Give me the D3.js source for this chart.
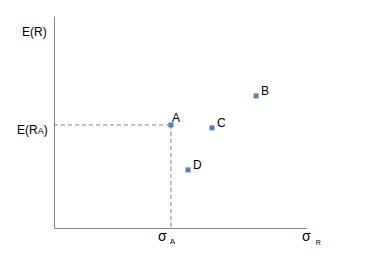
<!DOCTYPE html>
<html><head><meta charset="utf-8">
<script src="https://cdn.jsdelivr.net/npm/d3@7"></script>
<style>body{margin:0;background:#fff}svg{display:block}text{font-family:"Liberation Sans","Open Sans",sans-serif;fill:#000}</style>
</head><body>
<script>
const names = ["A","B","C","D"];
const risk = [46.4, 80.2, 62.7, 53.2];
const ret = [48.6, 62.3, 47.2, 27.4];
const labelDx = [1, 5, 5, 5];
const labelDy = [-3, -1, -1, -1];

const W = 392, H = 258;
const svg = d3.select("body").append("svg").attr("width", W).attr("height", H);
const x = d3.scaleLinear().domain([0, 100]).range([54, 306]);
const y = d3.scaleLinear().domain([0, 100]).range([228, 16]);

// axes
svg.append("g").attr("transform", `translate(0,${y(0)})`)
  .call(d3.axisBottom(x).tickValues([]).tickSizeOuter(0))
  .call(g => g.select(".domain").attr("stroke", "#868686"));
svg.append("g").attr("transform", `translate(${x(0)},0)`)
  .call(d3.axisLeft(y).tickValues([]).tickSizeOuter(0))
  .call(g => g.select(".domain").attr("stroke", "#868686"));

// dashed guides to A
const ax = x(risk[0]), ay = y(ret[0]);
svg.append("line").attr("x1", x(0)).attr("x2", ax).attr("y1", ay).attr("y2", ay)
  .attr("stroke", "#7f7f7f").attr("stroke-dasharray", "4,3");
svg.append("line").attr("x1", ax).attr("x2", ax).attr("y1", ay).attr("y2", y(0))
  .attr("stroke", "#7f7f7f").attr("stroke-dasharray", "4,3");

// points
const data = names.map((n, i) => ({n, x: risk[i], y: ret[i], dx: labelDx[i], dy: labelDy[i]}));
svg.selectAll("rect.pt").data(data).join("rect").attr("class", "pt")
  .attr("x", d => x(d.x) - 2.5).attr("y", d => y(d.y) - 2.5)
  .attr("width", 5).attr("height", 5).attr("fill", "#4f81bd");
svg.selectAll("text.lbl").data(data).join("text").attr("class", "lbl")
  .attr("x", d => x(d.x) + d.dx).attr("y", d => y(d.y) + d.dy)
  .attr("font-size", 12).text(d => d.n);

// axis labels
svg.append("text").attr("x", 22).attr("y", 36).attr("font-size", 12).text("E(R)");
const er = svg.append("text").attr("x", 17).attr("y", 134).attr("font-size", 12);
er.append("tspan").text("E(R");
er.append("tspan").attr("font-size", 9).text("A");
er.append("tspan").text(")");
const sa = svg.append("text").attr("x", 158).attr("y", 241).attr("font-size", 14);
sa.append("tspan").text("σ");
sa.append("tspan").attr("font-size", 8).attr("dx", 3).attr("dy", 3).text("A");
const sr = svg.append("text").attr("x", 302).attr("y", 241).attr("font-size", 14);
sr.append("tspan").text("σ");
sr.append("tspan").attr("font-size", 7).attr("dx", 5).attr("dy", 4).text("R");
</script>
</body></html>
